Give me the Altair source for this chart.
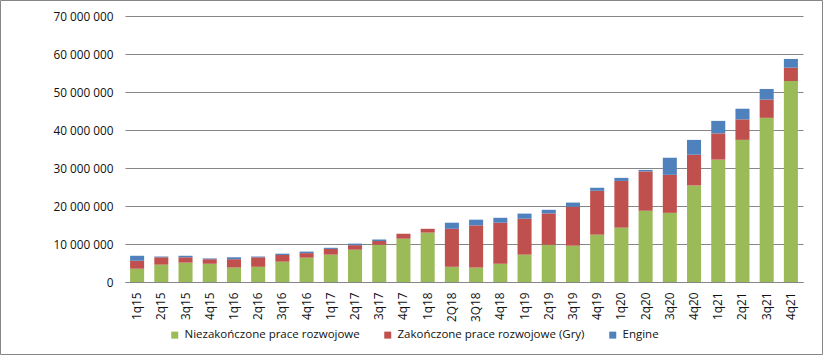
import altair as alt
import pandas as pd

quarters = ["1q15","2q15","3q15","4q15","1q16","2q16","3q16","4q16","1q17","2q17",
            "3q17","4q17","1q18","2Q18","3Q18","4q18","1q19","2q19","3q19","4q19",
            "1q20","2q20","3q20","4q20","1q21","2q21","3q21","4q21"]

series_names = ["Niezakończone prace rozwojowe", "Zakończone prace rozwojowe (Gry)", "Engine"]
series_colors = ["#9BBB59", "#C0504D", "#4F81BD"]

niezakonczone = [3500000, 4560000, 5100000, 4800000, 3800000, 4000000, 5350000, 6400000, 7200000, 8500000,
                 9800000, 11400000, 13000000, 4000000, 3800000, 4800000, 7200000, 9800000, 9550000, 12450000,
                 14300000, 18750000, 18200000, 25400000, 32200000, 37400000, 43200000, 52900000]
zakonczone = [2100000, 1940000, 1400000, 1200000, 2200000, 2500000, 1750000, 1200000, 1500000, 1200000,
              1000000, 1300000, 1000000, 10000000, 11100000, 10800000, 9450000, 8250000, 10250000, 11550000,
              12300000, 10350000, 10000000, 8100000, 6900000, 5400000, 4800000, 3500000]
engine = [1300000, 200000, 400000, 200000, 500000, 200000, 350000, 400000, 300000, 400000,
          400000, 0, 0, 1600000, 1500000, 1300000, 1350000, 950000, 1100000, 800000,
          800000, 400000, 4500000, 3900000, 3300000, 2800000, 2800000, 2300000]

rows = []
for i, q in enumerate(quarters):
    for k, vals in enumerate([niezakonczone, zakonczone, engine]):
        rows.append({"q": q, "series": series_names[k], "order": k, "value": vals[i]})
df = pd.DataFrame(rows)

FONT = "Open Sans"
FS = 11.8
LFS = 11.5

bars = alt.Chart(df).mark_bar().encode(
    x=alt.X("q:N", sort=quarters, title=None,
            scale=alt.Scale(paddingInner=0.42, paddingOuter=0.21),
            axis=alt.Axis(labelAngle=270, labelPadding=10, ticks=False, domainColor="#868686",
                          labelFontSize=FS, labelColor="#111111", labelFont=FONT)),
    y=alt.Y("value:Q", stack="zero", title=None,
            scale=alt.Scale(domain=[0, 70000000], nice=False),
            axis=alt.Axis(values=[0, 10000000, 20000000, 30000000, 40000000, 50000000, 60000000, 70000000],
                          labelExpr="replace(format(datum.value, ',d'), /,/g, ' ')",
                          grid=True, gridColor="#868686", gridWidth=1, domain=False, ticks=False,
                          labelPadding=12, labelFontSize=FS, labelColor="#111111", labelFont=FONT)),
    color=alt.Color("series:N", sort=series_names,
                    scale=alt.Scale(domain=series_names, range=series_colors),
                    legend=alt.Legend(title=None, orient="none", legendX=44, legendY=313,
                                      direction="horizontal", columns=3, columnPadding=22,
                                      symbolType="square", symbolSize=49, symbolStrokeWidth=0,
                                      labelFontSize=LFS, labelFont=FONT, labelColor="#111111",
                                      labelOffset=4, labelLimit=400)),
    order=alt.Order("order:Q", sort="ascending"),
)

frame = alt.Chart(pd.DataFrame({"a": [0]})).mark_rect(
    fill=None, stroke="#868686", strokeWidth=1, clip=False
).encode(
    x=alt.value(-124.5), x2=alt.value(697.5), y=alt.value(-15.5), y2=alt.value(338.5)
)

chart = alt.layer(frame, bars).properties(
    width=678, height=266,
    autosize=alt.AutoSizeParams(type="none"),
    padding={"left": 125, "top": 16, "right": 21, "bottom": 74},
    background="white",
).configure_view(stroke=None)

chart.save("out.html", embed_options={"renderer": "svg", "actions": False})
